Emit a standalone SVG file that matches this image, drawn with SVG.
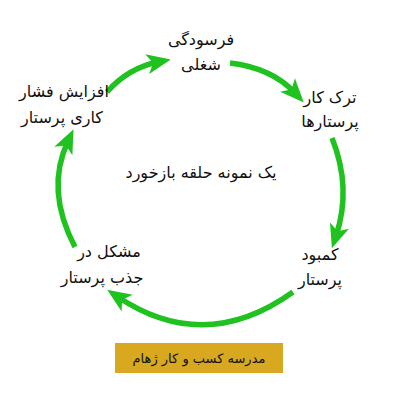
<svg xmlns="http://www.w3.org/2000/svg" width="400" height="400" viewBox="0 0 400 400">
<style>
.t{font-family:"DejaVu Sans","Noto Sans",sans-serif;font-size:16px;fill:#111;text-anchor:middle}
.a{fill:none;stroke:#1fc21f;stroke-width:5.5;marker-end:url(#ah)}
</style>
<defs>
<marker id="ah" markerUnits="userSpaceOnUse" markerWidth="26" markerHeight="22" refX="11" refY="10" orient="auto" overflow="visible">
<path d="M0,0 L24,10 L0,20 L6,10 z" fill="#1fc21f"/>
</marker>
</defs>
<rect width="400" height="400" fill="#fff"/>
<g id="connectors">
<path class="a" d="M107,92 Q128,68 158,62"/>
<path class="a" d="M230,63 Q272,68 295,93"/>
<path class="a" d="M332,138 Q352,188 336,236"/>
<path class="a" d="M293,292 Q205,355 118,297"/>
<path class="a" d="M75,247 Q45,190 68,141"/>
</g>
<g id="n1"><text class="t" x="201" y="45">فرسودگی</text><text class="t" x="201" y="70">شغلی</text></g>
<g id="n2"><text class="t" x="330" y="103">ترک کار</text><text class="t" x="330" y="127">پرستارها</text></g>
<g id="n3"><text class="t" x="320" y="260">کمبود</text><text class="t" x="320" y="285">پرستار</text></g>
<g id="n4"><text class="t" x="109" y="257">مشکل در</text><text class="t" x="102" y="283">جذب پرستار</text></g>
<g id="n5"><text class="t" x="64" y="97">افزایش فشار</text><text class="t" x="62" y="123">کاری پرستار</text></g>
<g id="center"><text class="t" x="201" y="178">یک نمونه حلقه بازخورد</text></g>
<g id="label"><rect x="115" y="343" width="168" height="30" fill="#d8a820"/><text class="t" x="199" y="363" style="font-size:13px">مدرسه کسب و کار ژهام</text></g>
</svg>
